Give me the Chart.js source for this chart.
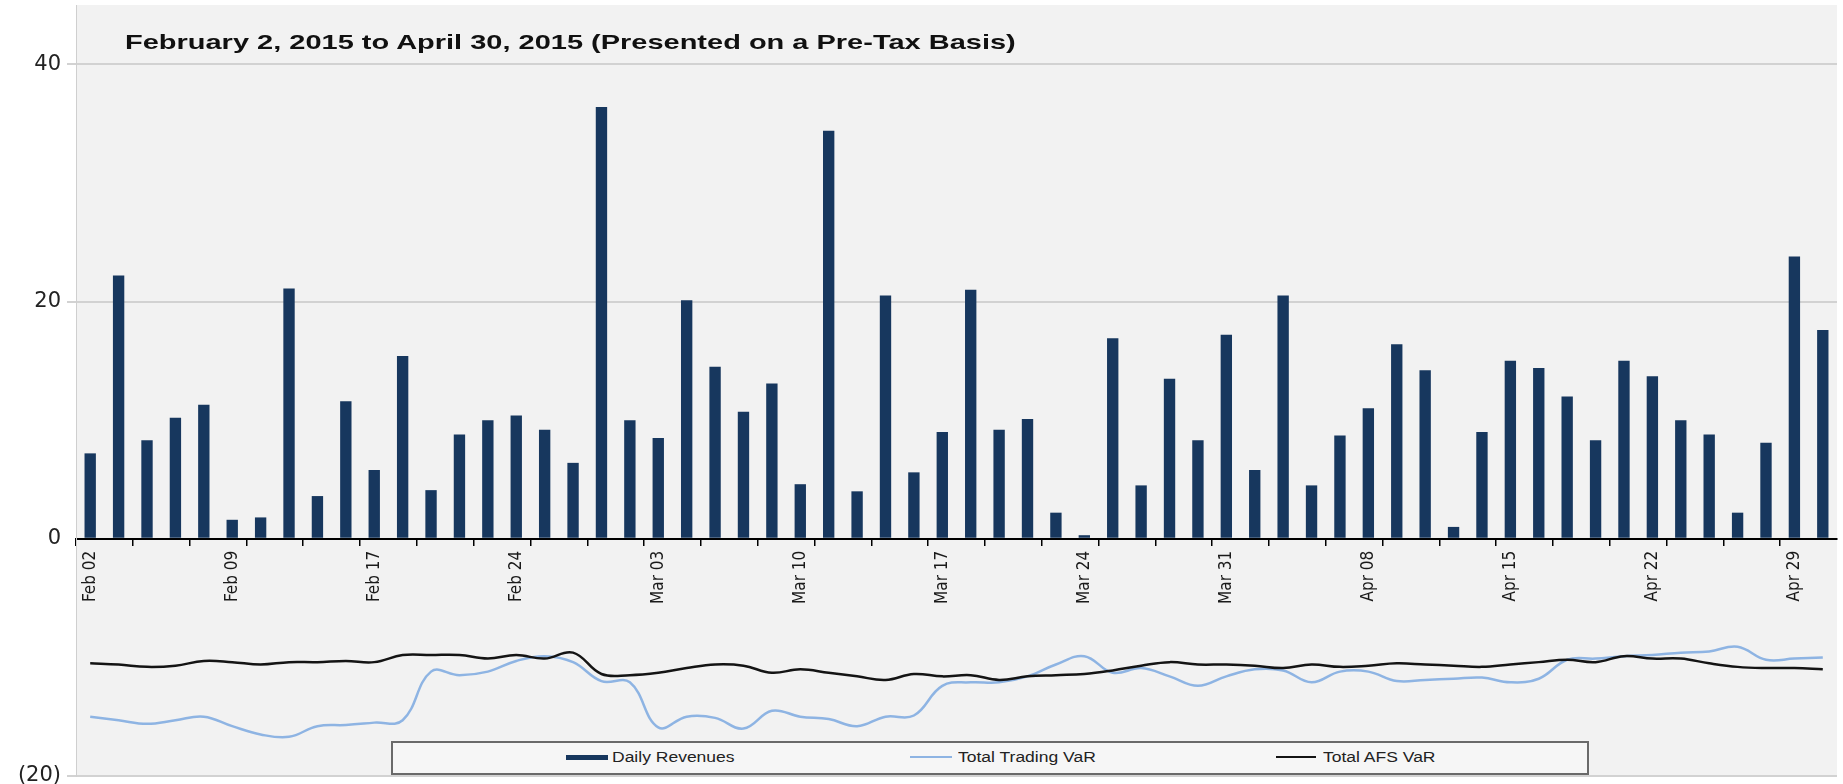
<!DOCTYPE html>
<html>
<head>
<meta charset="utf-8">
<script src="https://cdn.jsdelivr.net/npm/chart.js@4.4.1/dist/chart.umd.min.js"></script>
<style>
  body { margin: 0; background: #fff; }
  #wrap { position: relative; width: 1843px; height: 784px; overflow: hidden; }
  #title {
    position: absolute; left: 125px; top: 31px; white-space: nowrap;
    font: bold 21px "Liberation Sans", Arial, sans-serif; line-height: 21px; color: #111;
    transform: scaleX(1.38); transform-origin: left top;
  }
  #legend {
    position: absolute; left: 391px; top: 741px; width: 1194px; height: 30px;
    border: 2px solid #6a6a6a; background: #f6f6f6;
  }
  .mk { position: absolute; }
  .lt {
    position: absolute; top: 7px; white-space: nowrap;
    font: 14px "Liberation Sans", Arial, sans-serif; line-height: 14px; color: #222;
    transform: scaleX(1.25); transform-origin: left top;
  }
</style>
</head>
<body>
<div id="wrap">
  <canvas id="chart" width="1843" height="784"></canvas>
  <div id="title">February 2, 2015 to April 30, 2015 (Presented on a Pre-Tax Basis)</div>
  <div id="legend"></div>
</div>
<script>
// business days, Feb 2 - Apr 30 2015
const days = [
  'Feb 02','Feb 03','Feb 04','Feb 05','Feb 06','Feb 09','Feb 10','Feb 11','Feb 12','Feb 13',
  'Feb 17','Feb 18','Feb 19','Feb 20','Feb 23','Feb 24','Feb 25','Feb 26','Feb 27',
  'Mar 02','Mar 03','Mar 04','Mar 05','Mar 06','Mar 09','Mar 10','Mar 11','Mar 12','Mar 13',
  'Mar 16','Mar 17','Mar 18','Mar 19','Mar 20','Mar 23','Mar 24','Mar 25','Mar 26','Mar 27',
  'Mar 30','Mar 31','Apr 01','Apr 02','Apr 06','Apr 07','Apr 08','Apr 09','Apr 10',
  'Apr 13','Apr 14','Apr 15','Apr 16','Apr 17','Apr 20','Apr 21','Apr 22','Apr 23','Apr 24',
  'Apr 27','Apr 28','Apr 29','Apr 30'
];
const tickLabels = ['Feb 02','Feb 09','Feb 17','Feb 24','Mar 03','Mar 10','Mar 17','Mar 24',
  'Mar 31','Apr 08','Apr 15','Apr 22','Apr 29'];

const dailyRevenues = [
  7.2, 22.2, 8.3, 10.2, 11.3, 1.6, 1.8, 21.1, 3.6, 11.6,
  5.8, 15.4, 4.1, 8.8, 10.0, 10.4, 9.2, 6.4, 36.4, 10.0,
  8.5, 20.1, 14.5, 10.7, 13.1, 4.6, 34.4, 4.0, 20.5, 5.6,
  9.0, 21.0, 9.2, 10.1, 2.2, 0.3, 16.9, 4.5, 13.5, 8.3,
  17.2, 5.8, 20.5, 4.5, 8.7, 11.0, 16.4, 14.2, 1.0, 9.0,
  15.0, 14.4, 12.0, 8.3, 15.0, 13.7, 10.0, 8.8, 2.2, 8.1,
  23.8, 17.6
];
const tradingVaR = [
  -15.0, -15.3, -15.6, -15.3, -15.0, -15.8, -16.5, -16.7, -15.8, -15.7,
  -15.5, -15.3, -11.2, -11.5, -11.2, -10.3, -9.9, -10.4, -12.0, -12.1,
  -15.9, -15.0, -15.1, -16.0, -14.5, -15.0, -15.2, -15.8, -15.0, -14.9,
  -12.4, -12.1, -12.1, -11.6, -10.6, -9.9, -11.3, -10.9, -11.6, -12.4,
  -11.6, -11.0, -11.1, -12.1, -11.2, -11.2, -12.0, -11.9, -11.8, -11.7,
  -12.1, -11.8, -10.2, -10.1, -9.9, -9.8, -9.6, -9.5, -9.1, -10.2,
  -10.1, -10.0
];
const afsVaR = [
  -10.5, -10.6, -10.8, -10.7, -10.3, -10.4, -10.6, -10.4, -10.4, -10.3,
  -10.4, -9.8, -9.8, -9.8, -10.1, -9.8, -10.1, -9.6, -11.4, -11.5,
  -11.3, -10.9, -10.6, -10.7, -11.3, -11.0, -11.3, -11.6, -11.9, -11.4,
  -11.6, -11.5, -11.9, -11.6, -11.5, -11.4, -11.1, -10.7, -10.4, -10.6,
  -10.6, -10.7, -10.9, -10.6, -10.8, -10.7, -10.5, -10.6, -10.7, -10.8,
  -10.6, -10.4, -10.2, -10.4, -9.9, -10.1, -10.1, -10.5, -10.8, -10.9,
  -10.9, -11.0
];
const yTicks = [-20, 0, 20, 40];

const navy = '#17375e';
const lightBlue = '#8eb4e3';
const black = '#141414';

// grey plot background
const plotBg = {
  id: 'plotBg',
  beforeDraw(chart) {
    const { ctx, chartArea: a } = chart;
    ctx.save();
    ctx.fillStyle = '#f2f2f2';
    ctx.fillRect(a.left, a.top, a.right - a.left, a.bottom - a.top);
    ctx.restore();
  }
};

new Chart(document.getElementById('chart'), {
  type: 'bar',
  data: {
    labels: days,
    datasets: [
      { type: 'line', label: 'Total AFS VaR', data: afsVaR, borderColor: black, borderWidth: 2.5,
        pointRadius: 0, tension: 0.4, order: 0 },
      { type: 'line', label: 'Total Trading VaR', data: tradingVaR, borderColor: lightBlue, borderWidth: 2.5,
        pointRadius: 0, tension: 0.4, order: 1 },
      { label: 'Daily Revenues', data: dailyRevenues, backgroundColor: navy,
        barPercentage: 0.4, categoryPercentage: 1, order: 2 }
    ]
  },
  options: {
    responsive: false,
    animation: false,
    layout: { padding: { top: 5, right: 6, bottom: 8, left: 0 } },
    plugins: { legend: { display: false }, tooltip: { enabled: false } },
    scales: {
      x: {
        type: 'category',
        position: { y: 0 },
        offset: true,
        afterFit: s => { s.paddingLeft = 0; s.paddingRight = 0; },
        border: { color: '#000', width: 2 },
        grid: {
          offset: true,
          drawOnChartArea: false,
          tickLength: 6,
          lineWidth: 1.5,
          color: ctx => (ctx.index % 2 === 0 ? '#000' : 'rgba(0,0,0,0)')
        },
        ticks: {
          autoSkip: false,
          minRotation: 90,
          maxRotation: 90,
          padding: 6,
          color: '#1a1a1a',
          font: { family: '"Liberation Sans Narrow", "DejaVu Sans Condensed", sans-serif', size: 17 },
          callback: function (v, i) { return tickLabels.includes(days[i]) ? days[i] : ''; }
        }
      },
      y: {
        min: -20,
        max: 45,
        afterBuildTicks: s => { s.ticks = yTicks.map(v => ({ value: v })); },
        afterFit: s => { s.width = 76; s.paddingTop = 0; s.paddingBottom = 0; },
        border: { color: '#cfcfcf', width: 1 },
        grid: {
          tickLength: 9,
          lineWidth: 2,
          color: ctx => (ctx.tick && ctx.tick.value === 0 ? 'rgba(0,0,0,0)' : '#d2d2d2')
        },
        ticks: {
          crossAlign: 'near',
          padding: 6,
          color: '#222',
          font: { family: '"DejaVu Sans", sans-serif', size: 21 },
          // accounting style: negatives in brackets
          callback: v => (v < 0 ? '(' + Math.abs(v) + ')' : String(v))
        }
      }
    }
  },
  plugins: [plotBg]
});

// legend box (inside the plot, like the original)
const legendItems = [
  { text: 'Daily Revenues', color: navy, mk: 566, w: 42, h: 5, tx: 612 },
  { text: 'Total Trading VaR', color: lightBlue, mk: 910, w: 42, h: 2.5, tx: 958 },
  { text: 'Total AFS VaR', color: black, mk: 1276, w: 40, h: 2.5, tx: 1323 }
];
const box = document.getElementById('legend');
legendItems.forEach(it => {
  const m = document.createElement('div');
  m.className = 'mk';
  m.style.left = (it.mk - 393) + 'px';
  m.style.top = (14 - it.h / 2) + 'px';
  m.style.width = it.w + 'px';
  m.style.height = it.h + 'px';
  m.style.background = it.color;
  box.appendChild(m);
  const t = document.createElement('div');
  t.className = 'lt';
  t.style.left = (it.tx - 393) + 'px';
  t.textContent = it.text;
  box.appendChild(t);
});
</script>
</body>
</html>
